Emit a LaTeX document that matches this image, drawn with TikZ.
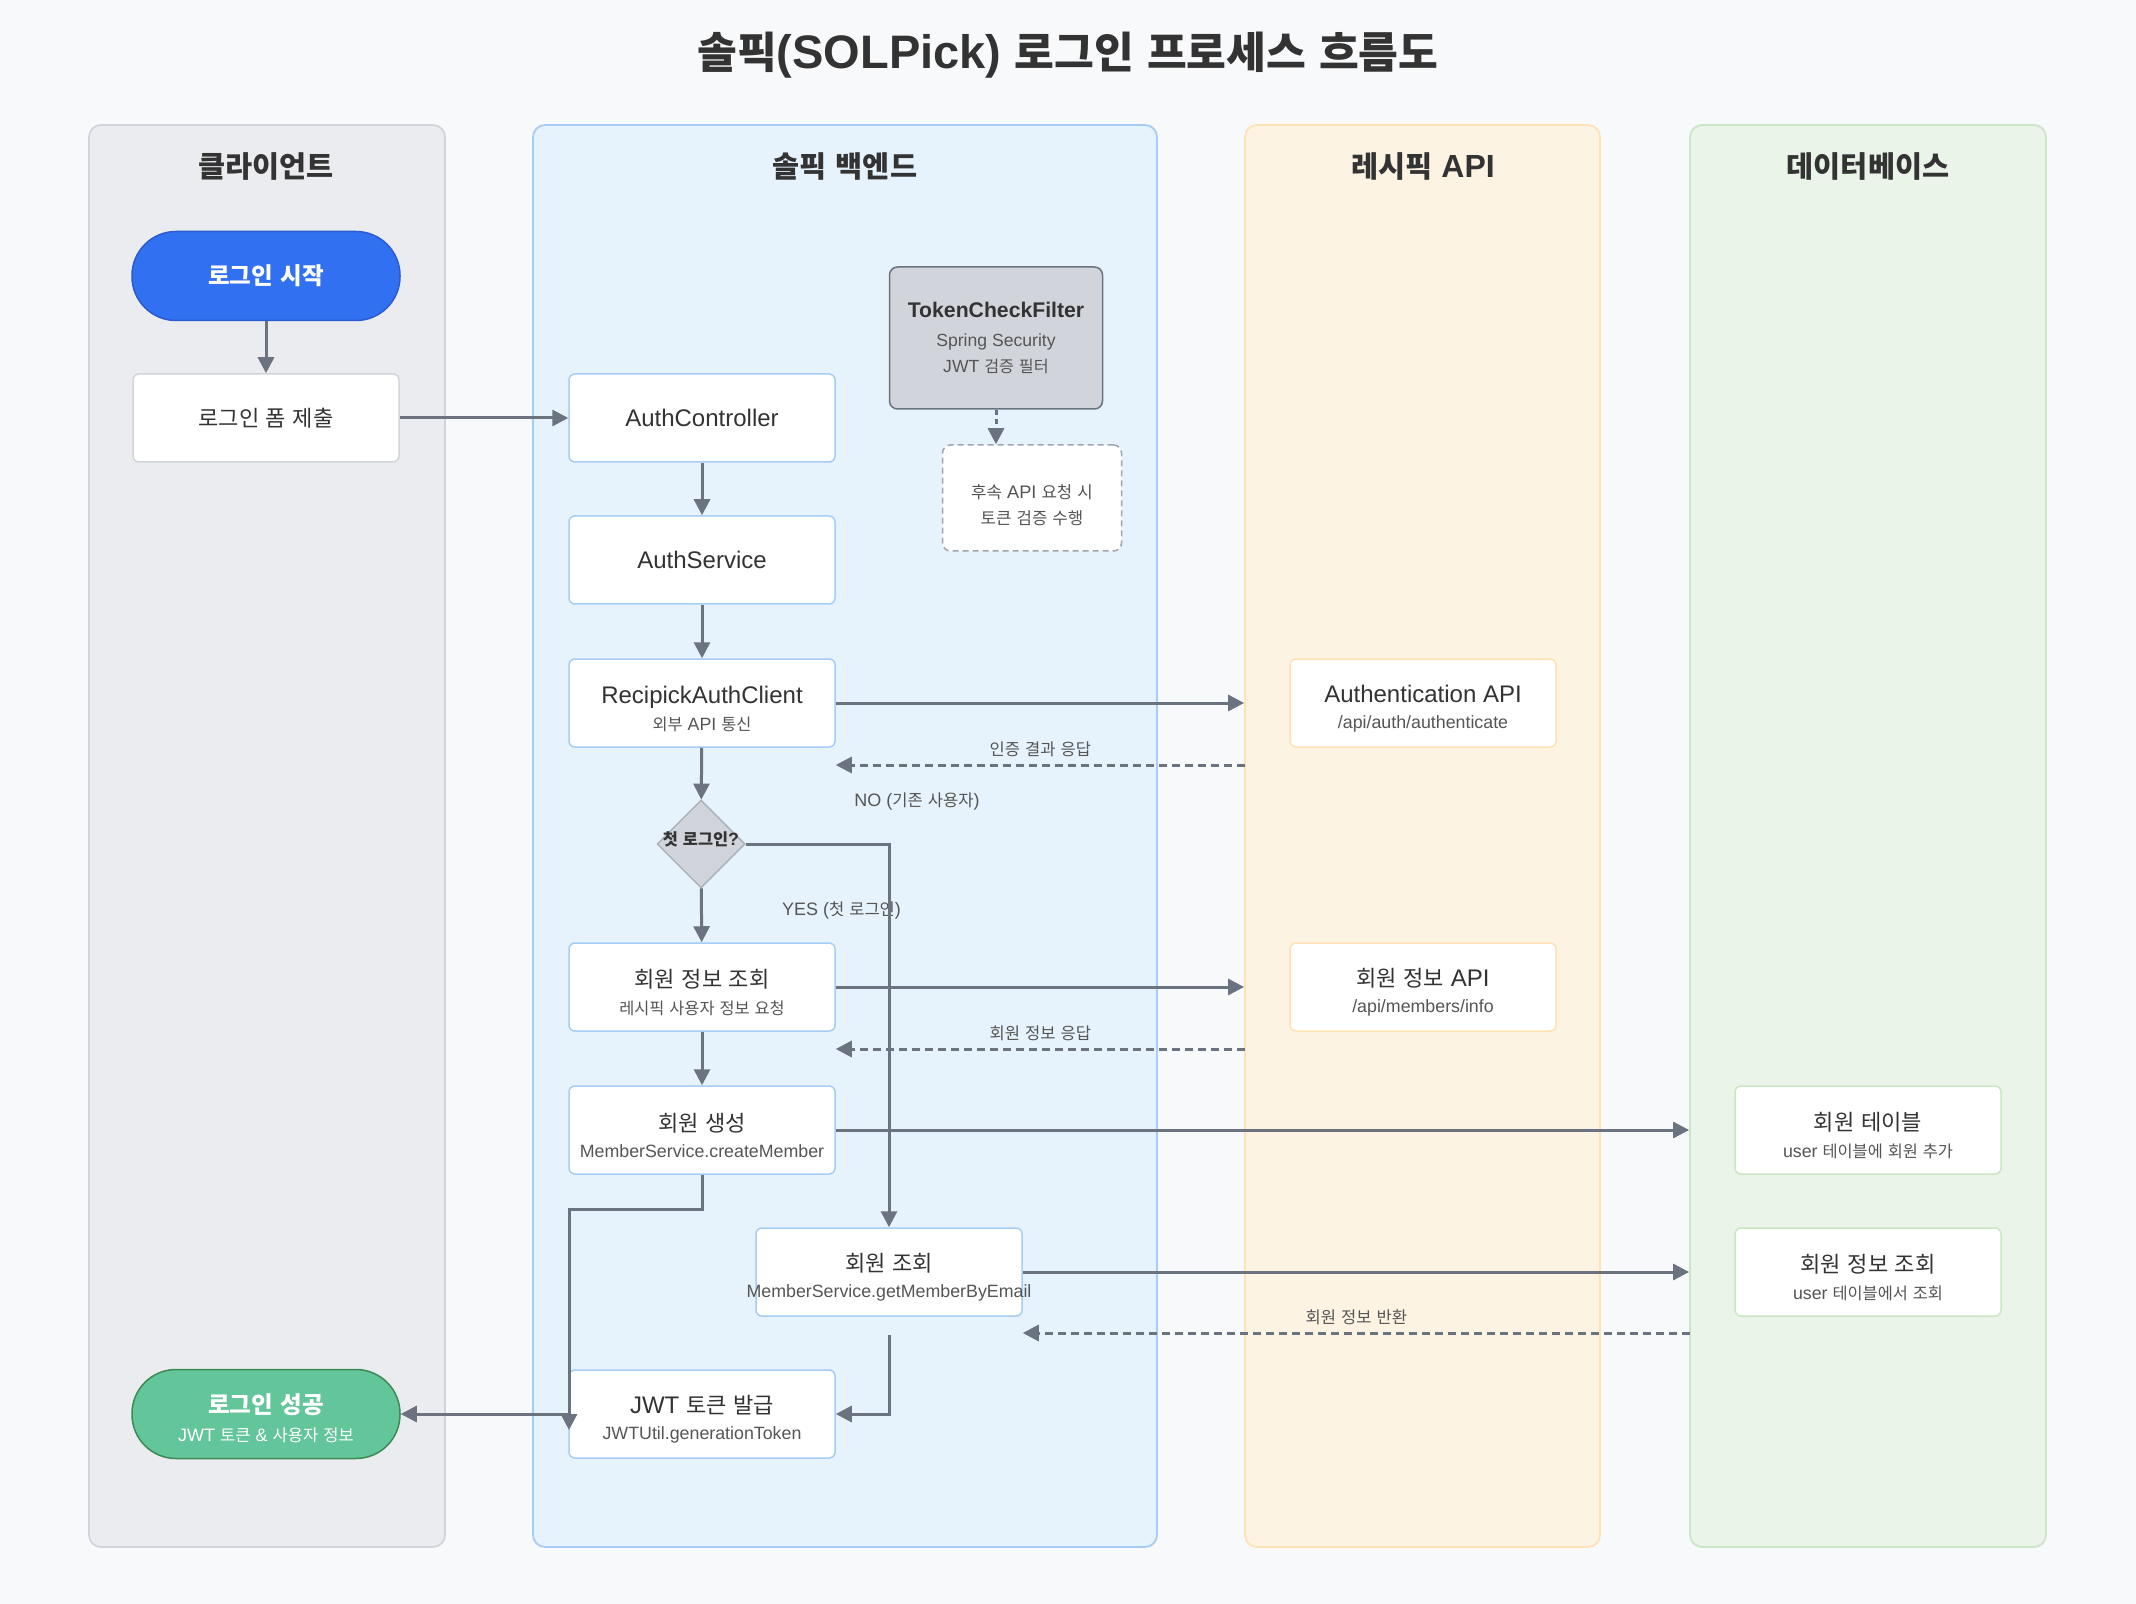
\documentclass[tikz,border=0pt]{standalone}
\usepackage{fontspec}
\setmainfont{Liberation Sans}
\newfontfamily\krfont{Noto Sans CJK KR}[Scale=0.92]
\newfontfamily\lafont{Liberation Sans}
\XeTeXinterchartokenstate=1
\chardef\hangulclass=7
\newcount\hcode
\hcode="AC00
\loop
  \XeTeXcharclass\hcode=\hangulclass
  \advance\hcode by 1
\ifnum\hcode<"D7A4 \repeat
\XeTeXinterchartoks 0 \hangulclass = {\krfont}
\XeTeXinterchartoks 4095 \hangulclass = {\krfont}
\XeTeXinterchartoks \hangulclass 0 = {\lafont}
\XeTeXinterchartoks \hangulclass 4095 = {\lafont}
\usetikzlibrary{arrows.meta,shapes.geometric,positioning}
\definecolor{bgcol}{HTML}{F8F9FB}
\definecolor{linegray}{HTML}{6B7280}
\definecolor{textdark}{HTML}{333333}
\definecolor{textsub}{HTML}{555555}
\definecolor{clientfill}{HTML}{EBECF0}
\definecolor{clientline}{HTML}{D1D5DB}
\definecolor{backfill}{HTML}{E6F2FC}
\definecolor{backline}{HTML}{A6CDF4}
\definecolor{apifill}{HTML}{FDF3E3}
\definecolor{apiline}{HTML}{FDE2B5}
\definecolor{dbfill}{HTML}{EAF4E8}
\definecolor{dbline}{HTML}{CBE5C6}
\definecolor{startblue}{HTML}{3170F0}
\definecolor{startline}{HTML}{2A5BD0}
\definecolor{okgreen}{HTML}{63C59A}
\definecolor{okline}{HTML}{3D8A55}
\definecolor{filterfill}{HTML}{D1D5DB}
\definecolor{diamondline}{HTML}{ADB1B8}
\definecolor{notegray}{HTML}{A0A5AD}
\newcommand{\subtxt}[1]{{\fontsize{8.9}{13.2}\selectfont\color{textsub}#1}}
\newcommand{\topstrut}[1]{\rule{0pt}{#1}}
\tikzset{
  lane/.style={draw, line width=0.9pt, rounded corners=6pt, minimum width=178pt, minimum height=711pt, inner sep=0},
  lanetitle/.style={font=\fontsize{16}{19}\selectfont\bfseries, text=textdark},
  box/.style={draw, fill=white, line width=0.75pt, rounded corners=3pt, minimum width=133pt, minimum height=44pt, align=center, text=textdark, font=\fontsize{12}{13.2}\selectfont, inner sep=0},
  pill/.style={box, rounded corners=22pt, minimum width=134pt, minimum height=44.5pt, font=\fontsize{12.8}{15}\selectfont\bfseries, text=white},
  decision/.style={diamond, aspect=1, draw=diamondline, fill=filterfill, line width=0.75pt, minimum width=44pt, minimum height=44pt, inner sep=0, font=\fontsize{8.9}{10}\selectfont\bfseries, text=textdark},
  filterbox/.style={draw=linegray, fill=filterfill, line width=0.75pt, rounded corners=4pt, minimum width=106.5pt, minimum height=71pt, align=center, inner sep=0, text=textdark, font=\fontsize{10.6}{13}\selectfont},
  notebox/.style={draw=notegray, fill=white, dash pattern=on 3pt off 2pt, line width=0.75pt, rounded corners=4pt, minimum width=89.5pt, minimum height=53pt, align=center, inner sep=0, text=textsub, font=\fontsize{9.1}{13}\selectfont},
  flow/.style={draw=linegray, line width=1.5pt, -{Triangle[length=8pt,width=8pt]}},
  reply/.style={flow, dash pattern=on 4pt off 2.5pt},
  noteflow/.style={flow, dash pattern=on 2.5pt off 2pt},
  lbl/.style={font=\fontsize{9}{11}\selectfont, text=textsub, inner sep=1pt}
}
\begin{document}
\begin{tikzpicture}[x=0.5pt,y=-0.5pt]
\fill[bgcol] (0,0) rectangle (2136,1604);
\useasboundingbox (0,0) rectangle (2136,1604);
\node[font=\fontsize{23.5}{28}\selectfont\bfseries, text=textdark] (title) at (1068,55) {솔픽(SOLPick) 로그인 프로세스 흐름도};

% lanes
\node[lane, fill=clientfill, draw=clientline] (clientlane) at (267,836) {};
\node[lane, fill=backfill, draw=backline, minimum width=312pt] (backlane) at (845,836) {};
\node[lane, fill=apifill, draw=apiline, minimum width=177.5pt] (apilane) at (1422.5,836) {};
\node[lane, fill=dbfill, draw=dbline] (dblane) at (1868,836) {};
\node[lanetitle] (clienthead) at (266,166) {클라이언트};
\node[lanetitle] (backhead) at (845,166) {솔픽 백엔드};
\node[lanetitle] (apihead) at (1423,166) {레시픽 API};
\node[lanetitle] (dbhead) at (1868,166) {데이터베이스};

% client
\node[pill, fill=startblue, draw=startline] (start) at (266,276) {로그인 시작};
\node[box, draw=clientline] (form) at (266,418) {로그인 폼 제출};
\node[pill, fill=okgreen, draw=okline] (success) at (266,1414) {\topstrut{14.5pt}로그인 성공\\[-1pt]{\fontsize{9}{12}\selectfont\mdseries JWT 토큰 \& 사용자 정보}};

% backend
\node[box, draw=backline] (ctrl) at (702,418) {AuthController};
\node[box, draw=backline] (service) at (702,560) {AuthService};
\node[box, draw=backline] (authclient) at (702,703) {\topstrut{14.5pt}RecipickAuthClient\\\subtxt{외부 API 통신}};
\node[decision] (first) at (701,844) {\raisebox{5pt}{\makebox[0pt]{첫 로그인?}}};
\node[box, draw=backline] (meminfo) at (702,987) {\topstrut{14.5pt}회원 정보 조회\\\subtxt{레시픽 사용자 정보 요청}};
\node[box, draw=backline] (create) at (702,1130) {\topstrut{14.5pt}회원 생성\\\subtxt{MemberService.createMember}};
\node[box, draw=backline] (find) at (889,1272) {\topstrut{14.5pt}회원 조회\\\subtxt{\makebox[0pt]{MemberService.getMemberByEmail}}};
\node[box, draw=backline] (jwt) at (702,1414) {\topstrut{14.5pt}JWT 토큰 발급\\\subtxt{JWTUtil.generationToken}};
\node[filterbox] (filter) at (996,338) {\textbf{TokenCheckFilter}\\[1.5pt]{\fontsize{8.8}{12.5}\selectfont\color{textsub}Spring Security}\\{\fontsize{8.8}{12.5}\selectfont\color{textsub}JWT 검증 필터}};
\node[notebox] (note) at (1032,498) {\topstrut{14pt}후속 API 요청 시\\토큰 검증 수행};

% recipick api
\node[box, draw=apiline] (authapi) at (1423,703) {\topstrut{14.5pt}Authentication API\\\subtxt{/api/auth/authenticate}};
\node[box, draw=apiline] (memapi) at (1423,987) {\topstrut{14.5pt}회원 정보 API\\\subtxt{/api/members/info}};

% database
\node[box, draw=dbline] (usertable) at (1868,1130) {\topstrut{14.5pt}회원 테이블\\\subtxt{user 테이블에 회원 추가}};
\node[box, draw=dbline] (userquery) at (1868,1272) {\topstrut{14.5pt}회원 정보 조회\\\subtxt{user 테이블에서 조회}};

\coordinate (authback) at (1245,765);
\coordinate (memback) at (1245,1049);
\coordinate (findback) at (1690,1333);
\coordinate (jwtdrop) at (569,1430);

\draw[flow] (start) -- (form);
\draw[flow] (form) -- (ctrl);
\draw[flow] (ctrl) -- (service);
\draw[flow] (service) -- (authclient);
\draw[flow] (authclient) -- (authclient -| apilane.west);
\draw[reply] (authback) -- node[lbl, midway, yshift=8pt] {인증 결과 응답} (authback -| authclient.east);
\draw[flow] (authclient) -- (first);
\draw[flow] (first) -- node[lbl, midway, xshift=70pt, yshift=2.5pt] {YES (첫 로그인)} (meminfo);
\draw[flow] (first.east) -| node[lbl, pos=0.5, xshift=14pt, yshift=21pt] {NO (기존 사용자)} (find.north);
\draw[flow] (meminfo) -- (meminfo -| apilane.west);
\draw[reply] (memback) -- node[lbl, midway, yshift=8pt] {회원 정보 응답} (memback -| meminfo.east);
\draw[flow] (meminfo) -- (create);
\draw[flow] (create) -- (create -| dblane.west);
\draw[flow] (create.south) -- ++(0,35) -| (jwtdrop);
\draw[flow] (find) -- (find -| dblane.west);
\draw[reply] (findback) -- node[lbl, midway, yshift=8pt] {회원 정보 반환} (findback -| find.east);
\draw[flow] ([yshift=-9pt]find.south) |- (jwt.east);
\draw[flow] (jwt.west) -- (success);
\draw[noteflow] (filter) -- (filter |- note.north);
\end{tikzpicture}
\end{document}
